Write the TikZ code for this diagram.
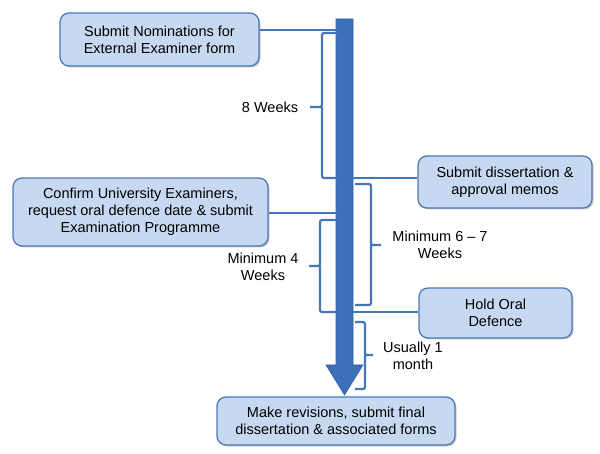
\documentclass[tikz,border=0pt]{standalone}
\usepackage{fontspec}
\setmainfont{Liberation Sans}
\usetikzlibrary{shadows}
\definecolor{boxfill}{RGB}{198,217,241}
\definecolor{boxline}{RGB}{79,120,180}
\definecolor{barfill}{RGB}{60,112,186}
\definecolor{barline}{RGB}{50,95,160}
\definecolor{linkc}{RGB}{70,118,184}
\tikzset{
  stepbox/.style={draw=boxline, line width=1.3pt, fill=boxfill, rounded corners=9pt,
    align=center, inner sep=2pt, font=\fontsize{14.5}{17}\selectfont,
    drop shadow={shadow xshift=1.5pt, shadow yshift=-1.5pt, opacity=0.35, fill=black!60}},
  link/.style={draw=linkc, line width=2.5pt},
  brace/.style={draw=linkc, line width=2.2pt, rounded corners=2pt},
  lbl/.style={align=center, font=\fontsize{14.5}{17}\selectfont}
}
\begin{document}
\begin{tikzpicture}[x=1pt,y=-1pt]
\useasboundingbox (0,0) rectangle (600,454);
% bar with arrow
\fill[barfill, draw=barline, line width=0.6pt] (336,19) -- (353,19) -- (353,365) -- (363,365) -- (344.5,395) -- (326,365) -- (336,365) -- cycle;
% boxes
\node[stepbox, minimum width=199pt, minimum height=53pt] (b1) at (159.5,39.5) {Submit Nominations for\\External Examiner form};
\node[stepbox, minimum width=174pt, minimum height=52pt] (b2) at (505,182) {Submit dissertation \&\\approval memos};
\node[stepbox, minimum width=255pt, minimum height=68pt] (b3) at (140.5,212) {Confirm University Examiners,\\request oral defence date \& submit\\Examination Programme};
\node[stepbox, minimum width=153pt, minimum height=50pt] (b4) at (495.5,313) {Hold Oral\\Defence};
\node[stepbox, minimum width=238pt, minimum height=48pt] (b5) at (336,421) {Make revisions, submit final\\dissertation \& associated forms};
% connector end points on the bar
\coordinate (t1) at (337,30);
\coordinate (t2) at (353,178);
\coordinate (t3) at (337,213);
\coordinate (t4) at (353,312);
\draw[link] (b1.east |- t1) -- (t1);
\draw[link] (t2) -- (b2.west |- t2);
\draw[link] (b3.east |- t3) -- (t3);
\draw[link] (t4) -- (b4.west |- t4);
% braces
\draw[brace] (338,33) -- (322,33) -- (322,107) -- (310,107) (322,107) -- (322,178) -- (338,178);
\draw[brace] (355,184) -- (371,184) -- (371,245) -- (381,245) (371,245) -- (371,305) -- (355,305);
\draw[brace] (336,220) -- (320,220) -- (320,266) -- (309,266) (320,266) -- (320,312) -- (336,312);
\draw[brace] (355,322) -- (365,322) -- (365,355) -- (373,355) (365,355) -- (365,389) -- (355,389);
% labels
\node[lbl] (l1) at (270,107) {8 Weeks};
\node[lbl] (l2) at (440,245) {Minimum 6 – 7\\Weeks};
\node[lbl] (l3) at (263,267) {Minimum 4\\Weeks};
\node[lbl] (l4) at (413,356) {Usually 1\\month};
\end{tikzpicture}
\end{document}
